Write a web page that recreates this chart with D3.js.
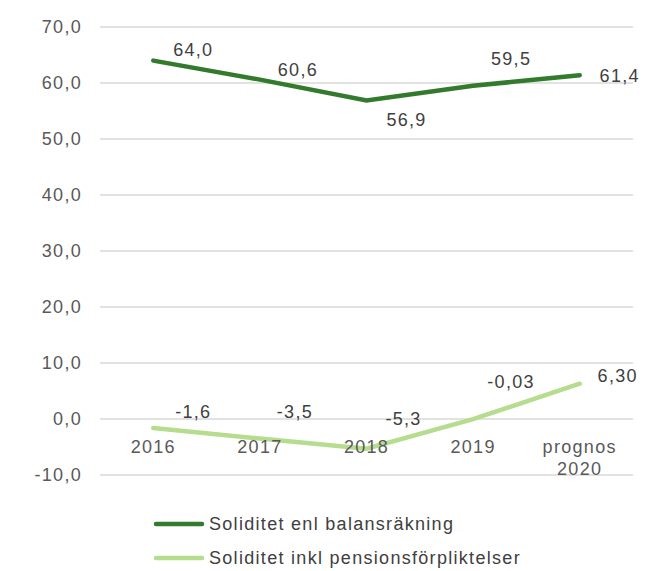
<!DOCTYPE html>
<html><head><meta charset="utf-8">
<script src="https://cdn.jsdelivr.net/npm/d3@7"></script>
<style>body{margin:0;background:#fff;}svg{display:block;font-family:"Liberation Sans",Arial,sans-serif;}</style>
</head><body>
<svg id="c" width="646" height="571"></svg>
<script>
const categories = ["2016","2017","2018","2019","prognos\n2020"];
const seriesNames = ["Soliditet enl balansräkning","Soliditet inkl pensionsförpliktelser"];
const balans = [64.0, 60.6, 56.9, 59.5, 61.4];
const balansLabels = ["64,0","60,6","56,9","59,5","61,4"];
const pension = [-1.6, -3.5, -5.3, -0.03, 6.30];
const pensionLabels = ["-1,6","-3,5","-5,3","-0,03","6,30"];
const yTicks = [-10,0,10,20,30,40,50,60,70];
const colors = ["#327a2c","#b6dc8e"];

const FS = 18, LS = "1.3px";
const svg = d3.select("#c");
const x = d3.scaleBand().domain(d3.range(categories.length)).range([100,633]);
const y = d3.scaleLinear().domain([-10,70]).range([475,27]);
const cx = i => x(i) + x.bandwidth()/2;
const fmt = v => (v<0?"-":"") + Math.abs(v).toFixed(1).replace(".",",");

// gridlines
svg.append("g").selectAll("line").data(yTicks).join("line")
  .attr("x1",100).attr("x2",633).attr("y1",d=>y(d)).attr("y2",d=>y(d))
  .attr("stroke","#d9d9d9").attr("stroke-width",1.3);
// y axis labels
const yAxis = d3.axisLeft(y).tickValues(yTicks).tickFormat(fmt).tickSize(0).tickPadding(0);
const ya = svg.append("g").attr("transform","translate(82,0)").call(yAxis)
  .attr("font-size",FS).attr("font-family","Liberation Sans, Arial, sans-serif");
ya.select(".domain").remove();
ya.selectAll("text").attr("fill","#595959").style("letter-spacing",LS);

const line = d3.line().x((d,i)=>cx(i)).y(d=>y(d));
svg.append("path").datum(pension).attr("d",line).attr("fill","none")
  .attr("stroke",colors[1]).attr("stroke-width",4.5).attr("stroke-linecap","round");
svg.append("path").datum(balans).attr("d",line).attr("fill","none")
  .attr("stroke",colors[0]).attr("stroke-width",4.5).attr("stroke-linecap","round");

// category labels
const cat = svg.append("g").selectAll("text").data(categories).join("text")
  .attr("x",(d,i)=>cx(i)).attr("y",453).attr("text-anchor","middle")
  .attr("font-size",FS).attr("fill","#595959").style("letter-spacing",LS);
cat.each(function(d){
  const sel = d3.select(this);
  const parts = d.split("\n");
  sel.selectAll("tspan").data(parts).join("tspan")
    .attr("x",sel.attr("x")).attr("dy",(p,j)=>j?22:0).text(p=>p);
});

// data labels
const bOff = [[40,-9],[38,-8],[40,21],[38,-26],[40,2]];
svg.append("g").selectAll("text").data(balans).join("text")
  .attr("x",(d,i)=>cx(i)+bOff[i][0]).attr("y",(d,i)=>y(d)+bOff[i][1])
  .attr("text-anchor","middle").attr("dominant-baseline","middle")
  .attr("font-size",FS).attr("fill","#404040").style("letter-spacing",LS).text((d,i)=>balansLabels[i]);
const pOff = [[40,-15],[35,-25],[37,-28],[38,-36],[38,-6]];
svg.append("g").selectAll("text").data(pension).join("text")
  .attr("x",(d,i)=>cx(i)+pOff[i][0]).attr("y",(d,i)=>y(d)+pOff[i][1])
  .attr("text-anchor","middle").attr("dominant-baseline","middle")
  .attr("font-size",FS).attr("fill","#404040").style("letter-spacing",LS).text((d,i)=>pensionLabels[i]);

// legend
const lg = svg.append("g").selectAll("g").data(seriesNames).join("g")
  .attr("transform",(d,i)=>`translate(156,${524+i*34})`);
lg.append("line").attr("x1",0).attr("x2",46).attr("y1",0).attr("y2",0)
  .attr("stroke",(d,i)=>colors[i]).attr("stroke-width",4.5).attr("stroke-linecap","round");
lg.append("text").attr("x",53).attr("y",1).attr("dominant-baseline","middle")
  .attr("font-size",FS).attr("fill","#404040").style("letter-spacing",LS).text(d=>d);
</script>
</body></html>
